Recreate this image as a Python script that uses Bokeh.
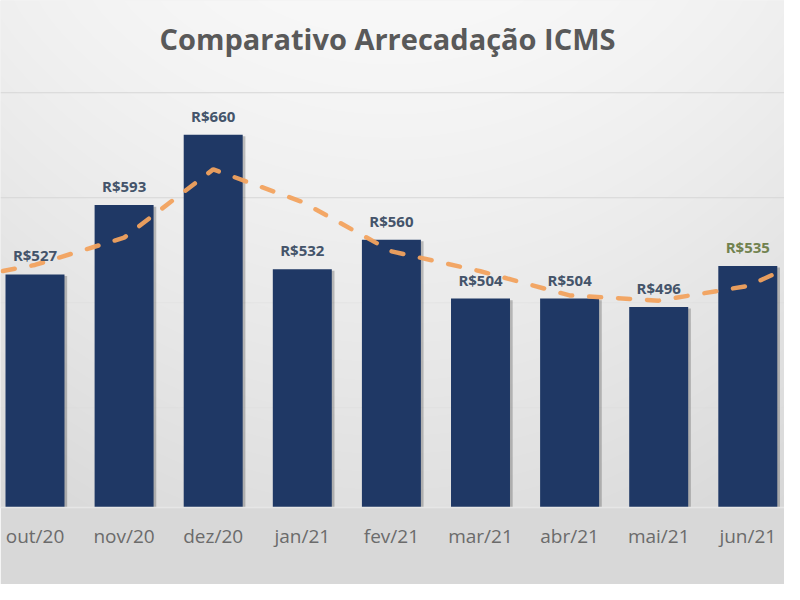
import numpy as np
from bokeh.plotting import figure
from bokeh.models import Range1d, LinearAxis, FixedTicker, Label, ColumnDataSource
from bokeh.core.properties import value
from bokeh.embed import file_html
from bokeh.resources import INLINE

# ---- data ----
months = ["out/20", "nov/20", "dez/20", "jan/21", "fev/21", "mar/21", "abr/21", "mai/21", "jun/21"]
icms = [527, 593, 660, 532, 560, 504, 504, 496, 535]
# trend (moving average), one month before and after the visible ones
trend_months = ["set/20", "out/20", "nov/20", "dez/20", "jan/21", "fev/21", "mar/21", "abr/21", "mai/21", "jun/21", "jul/21"]
trend = [520, 536, 562, 627, 596, 549, 530, 507, 502, 516, 554]
grid_values = [400, 500, 600, 700]
title_text = "Comparativo Arrecadação ICMS"

# ---- styling ----
BAR = "#1f3865"
LABEL = "#44546a"
LABEL_HL = "#71824f"
TREND = "#f2a25e"
FONT = "Open Sans"

W, H = 784, 584
FRAME_H = 507
STEP = 89.1          # px per category
YSCALE = 1.05        # px per R$
x0 = -34.5 / STEP
x1 = x0 + W / STEP
y0 = 305.0
y1 = y0 + FRAME_H / YSCALE

p = figure(width=W, height=H, output_backend="svg", toolbar_location=None,
           x_range=Range1d(x0, x1), y_range=Range1d(y0, y1),
           x_axis_location=None, y_axis_location=None,
           min_border=0, min_border_left=0, min_border_right=0, min_border_top=0,
           min_border_bottom=H - FRAME_H)
p.outline_line_color = None
p.border_fill_color = "#d8d8d8"
p.background_fill_color = "#e8e8e8"

# background gradient (frame)
py, px = np.mgrid[0:FRAME_H, 0:W]
X = px.astype(float)
Y = py.astype(float)
g = 248 - 24 * (Y / 507.0) ** 1.2 - 9 * ((X - 390) / 400.0) ** 2
g = np.clip(g, 0, 255).astype(np.uint32)[::-1]
img = (np.uint32(255) << 24) | (g << 16) | (g << 8) | g
p.image_rgba(image=[img.astype(np.uint32)], x=x0, y=y0, dw=x1 - x0, dh=y1 - y0)

# grid (lower lines fade into the darker part of the background)
p.xgrid.visible = False
p.ygrid.visible = False
for gv in grid_values:
    p.line(x=[x0, x1], y=[gv, gv], line_color="#d6d6d6", line_width=1.2,
           line_alpha=1.0 if gv >= 600 else 0.35)

idx = list(range(len(months)))
src = ColumnDataSource(dict(x=idx, top=icms,
                            label=["R$%d" % v for v in icms],
                            color=[LABEL] * (len(icms) - 1) + [LABEL_HL]))

# shadow + bars
p.vbar(x=[i + 0.03 for i in idx], top=[v - 1.5 for v in icms], bottom=y0, width=0.662,
       fill_color="#303030", fill_alpha=0.28, line_color=None)
p.vbar(x="x", top="top", bottom=y0, width=0.662, source=src,
       fill_color=BAR, line_color=None)

# trend line
p.line(x=list(range(-1, len(trend_months) - 1)), y=trend, line_color=TREND,
       line_width=4.5, line_dash="12 17", line_cap="round", line_alpha=0.95)

# value labels
p.text(x="x", y="top", text="label", source=src, text_align="center",
       text_baseline="middle", y_offset=-19, text_font=value(FONT),
       text_font_style="bold", text_font_size="15px", text_color="color")

# x axis
ax = LinearAxis(ticker=FixedTicker(ticks=idx),
                major_label_overrides={i: m for i, m in enumerate(months)})
ax.axis_line_color = "#e6e6e6"
ax.axis_line_width = 1.5
ax.major_tick_line_color = None
ax.minor_tick_line_color = None
ax.major_label_standoff = 9
ax.major_label_text_font = FONT
ax.major_label_text_font_size = "19px"
ax.major_label_text_color = "#6b6b6b"
p.add_layout(ax, "below")

# title
p.add_layout(Label(x=x0 + 387 / STEP, y=y1 - 38 / YSCALE, text=title_text,
                   text_align="center", text_baseline="middle",
                   text_font=FONT, text_font_style="bold", text_font_size="29px",
                   text_color="#595959"))

open("out.html", "w").write(file_html(p, INLINE))
